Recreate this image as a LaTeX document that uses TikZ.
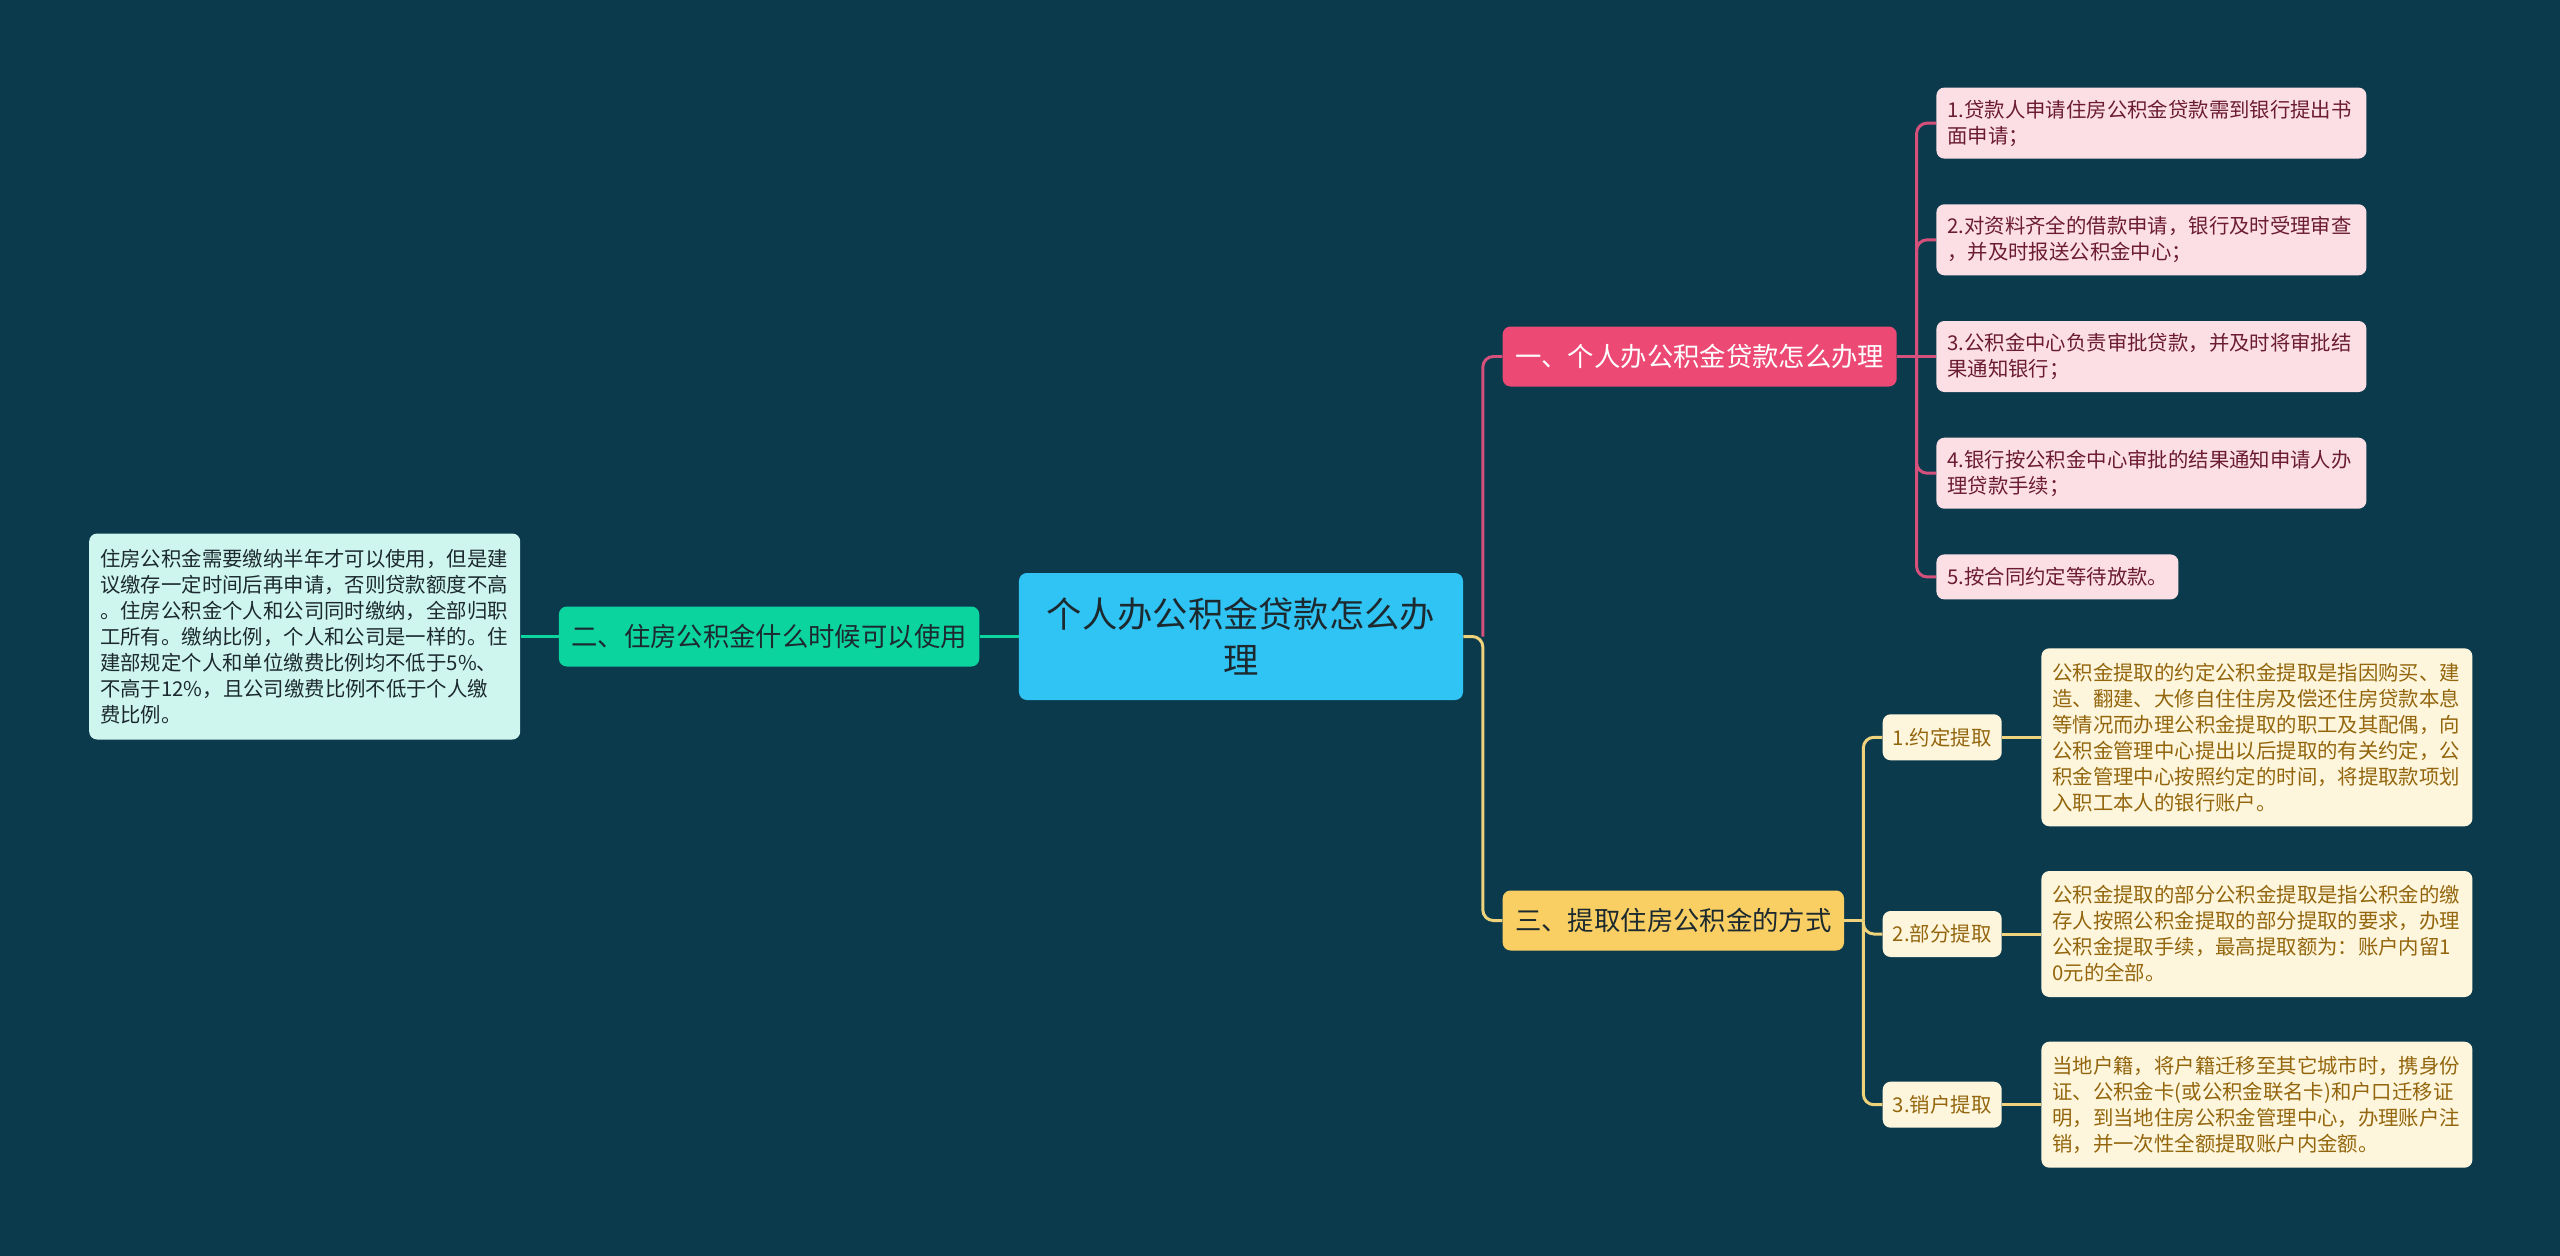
\documentclass[tikz,border=0pt]{standalone}
\usepackage{fontspec}
\setmainfont{Noto Sans CJK SC}
\usetikzlibrary{positioning, calc}
\definecolor{cbg}{HTML}{0B3A4D}
\definecolor{cblue}{HTML}{30C4F4}
\definecolor{cgreen}{HTML}{0BD49F}
\definecolor{cmint}{HTML}{CFF6EE}
\definecolor{cpink}{HTML}{EC4A74}
\definecolor{cpinklt}{HTML}{FCDFE5}
\definecolor{cpinkln}{HTML}{D5507A}
\definecolor{cmaroon}{HTML}{6B1C34}
\definecolor{cyellow}{HTML}{F9CF63}
\definecolor{cyellowlt}{HTML}{FEF6DC}
\definecolor{cyellowln}{HTML}{EFD27C}
\definecolor{cgold}{HTML}{93660E}
\definecolor{cdark}{HTML}{1C2A30}
\tikzset{
  topic/.style={fill=cblue, text=cdark, rounded corners=4.5pt, align=center, minimum width=8.88cm, minimum height=2.54cm, font=\fontsize{20.1pt}{26.2pt}\selectfont},
  branchbox/.style={fill=#1, text=cdark, rounded corners=4.5pt, inner xsep=0.25cm, minimum height=1.2cm, font=\fontsize{15pt}{19pt}\selectfont},
  subbox/.style={fill=cyellowlt, text=cgold, rounded corners=4.5pt, minimum width=2.38cm, minimum height=0.92cm, font=\fontsize{11.6pt}{14.8pt}\selectfont},
  leafbox/.style={fill=#1, rounded corners=4.5pt, align=left, text width=8.16cm, inner xsep=0.22cm, inner ysep=0.1cm, font=\fontsize{11.6pt}{14.8pt}\selectfont},
  link/.style={draw=#1, line width=1.7pt, rounded corners=6pt},
}

\begin{document}
\begin{tikzpicture}
  \useasboundingbox (-24.82,12.73) rectangle (26.38,-12.37);
  \fill[cbg] (-25,12.9) rectangle (26.6,-12.6);
  \node[topic] (root) at (0,0) {个人办公积金贷款怎么办\\理};

  % left side
  \node[branchbox=cgreen, left=0.78cm of root] (use) {二、住房公积金什么时候可以使用};
  \node[leafbox=cmint, text=cdark, text width=8.18cm, minimum height=4.12cm, left=0.76cm of use] (usenote) {住房公积金需要缴纳半年才可以使用，但是建\\议缴存一定时间后再申请，否则贷款额度不高\\。住房公积金个人和公司同时缴纳，全部归职\\工所有。缴纳比例，个人和公司是一样的。住\\建部规定个人和单位缴费比例均不低于5\%、\\不高于12\%，且公司缴费比例不低于个人缴\\费比例。};

  % right side
  \node[branchbox=cpink, text=white, right=0.78cm of root, yshift=5.6cm] (apply) {一、个人办公积金贷款怎么办理};
  \node[branchbox=cyellow, right=0.78cm of root, yshift=-5.68cm] (withdraw) {三、提取住房公积金的方式};

  \node[leafbox=cpinklt, text=cmaroon, minimum height=1.42cm, right=0.78cm of apply] (p3) {3.公积金中心负责审批贷款，并及时将审批结\\果通知银行；};
  \node[leafbox=cpinklt, text=cmaroon, minimum height=1.42cm, above=0.9cm of p3] (p2) {2.对资料齐全的借款申请，银行及时受理审查\\，并及时报送公积金中心；};
  \node[leafbox=cpinklt, text=cmaroon, minimum height=1.42cm, above=0.9cm of p2] (p1) {1.贷款人申请住房公积金贷款需到银行提出书\\面申请；};
  \node[leafbox=cpinklt, text=cmaroon, minimum height=1.42cm, below=0.9cm of p3] (p4) {4.银行按公积金中心审批的结果通知申请人办\\理贷款手续；};
  \node[leafbox=cpinklt, text=cmaroon, text width=4.4cm, minimum height=0.9cm, below=0.9cm of p4.south west, anchor=north west] (p5) {5.按合同约定等待放款。};

  \node[subbox, right=0.76cm of withdraw, yshift=-0.27cm] (w2) {2.部分提取};
  \node[leafbox=cyellowlt, text=cgold, text width=8.18cm, minimum height=2.52cm, right=0.78cm of w2] (n2) {公积金提取的部分公积金提取是指公积金的缴\\存人按照公积金提取的部分提取的要求，办理\\公积金提取手续，最高提取额为：账户内留1\\0元的全部。};
  \node[leafbox=cyellowlt, text=cgold, text width=8.18cm, minimum height=3.56cm, above=0.88cm of n2] (n1) {公积金提取的约定公积金提取是指因购买、建\\造、翻建、大修自住住房及偿还住房贷款本息\\等情况而办理公积金提取的职工及其配偶，向\\公积金管理中心提出以后提取的有关约定，公\\积金管理中心按照约定的时间，将提取款项划\\入职工本人的银行账户。};
  \node[leafbox=cyellowlt, text=cgold, text width=8.18cm, minimum height=2.52cm, below=0.88cm of n2] (n3) {当地户籍，将户籍迁移至其它城市时，携身份\\证、公积金卡(或公积金联名卡)和户口迁移证\\明，到当地住房公积金管理中心，办理账户注\\销，并一次性全额提取账户内金额。};
  \node[subbox, left=0.78cm of n1] (w1) {1.约定提取};
  \node[subbox, left=0.78cm of n3] (w3) {3.销户提取};

  % connectors
  \coordinate[right=0.39cm of root] (cj);
  \coordinate[right=0.39cm of apply] (pj);
  \coordinate[right=0.38cm of withdraw] (wj);
  \draw[link=cgreen] (root) -- (use);
  \draw[link=cgreen] (use) -- (usenote);
  \draw[link=cpinkln] (cj) |- (apply.west);
  \draw[link=cyellowln] (root.east) -- (cj) |- (withdraw.west);
  \draw[link=cpinkln] (apply) -- (p3);
  \draw[link=cpinkln] (pj) |- (p1.west);
  \draw[link=cpinkln] (pj) |- (p2.west);
  \draw[link=cpinkln] (pj) |- (p4.west);
  \draw[link=cpinkln] (pj) |- (p5.west);
  \draw[link=cyellowln] (withdraw.east) -- (wj);
  \draw[link=cyellowln] (wj) |- (w1.west);
  \draw[link=cyellowln] (wj) |- (w2.west);
  \draw[link=cyellowln] (wj) |- (w3.west);
  \draw[link=cyellowln] (w1) -- (n1);
  \draw[link=cyellowln] (w2) -- (n2);
  \draw[link=cyellowln] (w3) -- (n3);
\end{tikzpicture}
\end{document}
